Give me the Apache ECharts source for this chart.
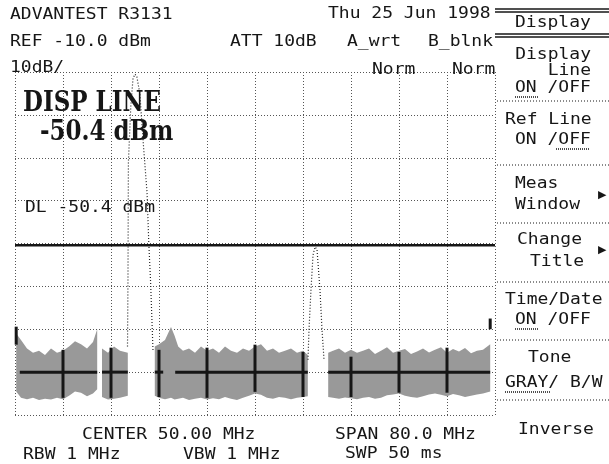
<!DOCTYPE html>
<html>
<head>
<meta charset="utf-8">
<script src="https://cdn.jsdelivr.net/npm/echarts@6/dist/echarts.min.js"></script>
<style>
  html, body { margin: 0; padding: 0; background: #fff; }
  #chart { width: 609px; height: 464px; }
</style>
</head>
<body>
<div id="chart"></div>
<script>
// axis scale: center 50 MHz, span 80 MHz, ref -10 dBm, 10 dB/div
const freqMin = 10;
const freqMax = 90;
const freqStep = 8;
const levelMin = -90;
const levelMax = -10;
const levelStep = 10;
const displayLine = -50.4;

// noise floor envelope (null separates the blocks)
const noiseFreq = [
  10.2, 11, 12, 13, 14, 15, 16, 17, 18, 19, 20, 21, 22, 23, 23.7, null,
  24.5, 25.5, 26.5, 27.5, 28.8, null,
  33.3, 34, 35, 36, 36.6, 37.2, 38, 39, 40, 41, 42, 43, 44, 45, 46, 47, 48, 49, 50, 51, 52, 53, 54, 55, 56, 57, 58, 58.8, null,
  62.2, 63, 64, 65, 66, 67, 68, 69, 70, 71, 72, 73, 74, 75, 76, 77, 78, 79, 80, 81, 82, 83, 84, 85, 86, 87, 88, 89.2
];
const noiseTop = [
  -71, -72.5, -74.5, -75.5, -75, -76, -74.5, -75.5, -75, -74, -72.8, -73.5, -74.5, -73, -70, null,
  -74.5, -75.5, -74, -75, -75.5, null,
  -74, -73.5, -72.5, -69.5, -71.5, -74, -75, -74.5, -75.5, -74, -75, -74.5, -75.5, -74, -75, -75.5, -74.5, -75, -74, -73.5, -75, -74.5, -75.5, -75, -74.5, -75.5, -75, -76, null,
  -75.5, -75, -74.5, -75.5, -74.8, -75.5, -75, -74.5, -75.8, -75, -74.2, -75.5, -75, -74.6, -75.8, -75.2, -74.5, -75.4, -74.8, -74.2, -75.5, -74.6, -75.2, -74.4, -75.6, -75, -74.8, -73.5
];
const noiseBottom = [
  -84.5, -86, -86.3, -86, -86.5, -86.2, -86.4, -86, -86.3, -85.5, -84.5, -84.8, -85.6, -85, -84, null,
  -85.8, -86.4, -86.2, -86, -85.5, null,
  -85.5, -86, -86.3, -86, -86.4, -86.2, -86, -86.5, -86.2, -86, -86.4, -86.1, -86.3, -85.8, -86.2, -86.5, -86, -85.5, -85, -85.3, -86, -86.2, -85.8, -86, -86.3, -86, -85.8, -85.6, null,
  -85.8, -86, -86.2, -85.9, -86.1, -86.3, -86, -85.8, -86.2, -86, -85.4, -85.2, -85, -85.5, -85.8, -86, -85.6, -85.2, -85, -85.3, -85.6, -85.1, -85.4, -85.8, -85.5, -85.2, -85, -84.5
];

// bold graticule pieces inside the noise, plus trace end markers
const boldFreq = [10.2, 18, 26, 34, 42, 50, 58, 66, 74, 82, 89.2];
const boldTop = [-69.4, -74.8, -74.3, -74.8, -74.3, -73.6, -75.3, -76.4, -75.3, -74.3, -67.5];
const boldBottom = [-73.6, -86, -86, -85.8, -86, -84.6, -85.8, -85.8, -84.8, -84.8, -70];
const boldRowStart = [10.8, 24.5, 33.3, 36.7, 62.2];
const boldRowEnd = [23.7, 28.8, 34.7, 58.8, 89.2];
const boldRowLevel = -80;

// signal peaks
const peak1Freq = [28.75, 28.83, 28.9, 29.3, 29.67, 30.0, 30.3, 30.8, 31.4, 32.0, 32.3, 32.6, 32.85, 33.0];
const peak1Level = [-74, -58, -31, -18, -11.5, -10.5, -11, -15, -27, -38, -50, -59, -69, -75];
const peak2Freq = [58.83, 59.0, 59.33, 59.67, 60.0, 60.33, 60.83, 61.17, 61.5];
const peak2Level = [-77.1, -70.1, -60.8, -52.7, -50.8, -51.3, -60.8, -70.1, -77.1];

const segments = [];
let cur = [];
noiseFreq.forEach((f, i) => {
  if (f === null) { segments.push(cur); cur = []; } else { cur.push(i); }
});
segments.push(cur);

const FONT = '"DejaVu Sans Mono", monospace';
const BIG = '"DejaVu Serif", serif';
const INK = '#161616';

function txt(x, y, s, extra) {
  const o = Object.assign({ size: 15, sx: 1.2, sy: 1, align: 'left', family: FONT, weight: 'normal' }, extra || {});
  return {
    type: 'text', x: x, y: y, scaleX: o.sx, scaleY: o.sy, z: 100,
    style: {
      text: s, fill: INK, fontFamily: o.family, fontSize: o.size, fontWeight: o.weight,
      align: o.align, textAlign: o.align, verticalAlign: 'middle', textVerticalAlign: 'middle'
    }
  };
}
function hline(x1, x2, y, w, dash) {
  return {
    type: 'line', z: 100, shape: { x1: x1, y1: y, x2: x2, y2: y },
    style: { stroke: INK, lineWidth: w, lineDash: dash || null }
  };
}

const chart = echarts.init(document.getElementById('chart'));

const graphics = [
  txt(10, 15, 'ADVANTEST R3131'),
  txt(328, 14, 'Thu 25 Jun 1998'),
  txt(10, 42, 'REF -10.0 dBm'),
  txt(230, 42, 'ATT 10dB'),
  txt(347, 42, 'A_wrt'),
  txt(428, 42, 'B_blnk'),
  txt(10, 68, '10dB/'),
  txt(372, 70, 'Norm'),
  txt(452, 70, 'Norm'),
  txt(23, 104, 'DISP LINE', { family: BIG, weight: 'bold', size: 23, sx: 1, sy: 1.2 }),
  txt(40, 133, '-50.4 dBm', { family: BIG, weight: 'bold', size: 23, sx: 1, sy: 1.2 }),
  txt(25, 208, 'DL -50.4 dBm'),
  txt(82, 435, 'CENTER 50.00 MHz'),
  txt(335, 435, 'SPAN 80.0 MHz'),
  txt(23, 455, 'RBW 1 MHz'),
  txt(183, 455, 'VBW 1 MHz'),
  txt(345, 454, 'SWP 50 ms'),
  // soft keys
  hline(495, 609, 9, 1.5), hline(495, 609, 12, 1.5),
  txt(515, 23, 'Display'),
  hline(495, 609, 34, 1.5), hline(495, 609, 37, 1.5),
  txt(591, 55, 'Display', { align: 'right' }),
  txt(591, 71, 'Line', { align: 'right' }),
  txt(515, 88, 'ON /OFF'),
  hline(515, 539, 97, 1.5, [1, 1]),
  hline(497, 609, 101, 1, [1, 2]),
  txt(505, 120, 'Ref Line'),
  txt(515, 140, 'ON /OFF'),
  hline(556, 590, 149, 1.5, [1, 1]),
  hline(497, 609, 165, 1, [1, 2]),
  txt(515, 184, 'Meas'),
  txt(515, 205, 'Window'),
  txt(598, 195, '\u25B6', { size: 11, sx: 1, family: '"DejaVu Sans", sans-serif' }),
  hline(497, 609, 223, 1, [1, 2]),
  txt(517, 240, 'Change'),
  txt(530, 262, 'Title'),
  txt(598, 250, '\u25B6', { size: 11, sx: 1, family: '"DejaVu Sans", sans-serif' }),
  hline(497, 609, 282, 1, [1, 2]),
  txt(505, 300, 'Time/Date'),
  txt(515, 320, 'ON /OFF'),
  hline(515, 539, 329, 1.5, [1, 1]),
  hline(497, 609, 340, 1, [1, 2]),
  txt(528, 358, 'Tone'),
  txt(505, 383, 'GRAY/ B/W'),
  hline(505, 550, 392, 1.5, [1, 1]),
  hline(497, 609, 400, 1, [1, 2]),
  txt(518, 430, 'Inverse')
];

const gridLine = { show: true, lineStyle: { color: '#555', width: 1, type: [1, 2] } };

chart.setOption({
  backgroundColor: '#fff',
  animation: false,
  grid: { left: 15, right: 114, top: 72, bottom: 49 },
  xAxis: {
    type: 'value', min: freqMin, max: freqMax, interval: freqStep,
    axisLine: { show: false }, axisTick: { show: false }, axisLabel: { show: false },
    splitLine: gridLine
  },
  yAxis: {
    type: 'value', min: levelMin, max: levelMax, interval: levelStep,
    axisLine: { show: false }, axisTick: { show: false }, axisLabel: { show: false },
    splitLine: gridLine
  },
  graphic: graphics,
  series: [
    {
      type: 'custom', name: 'noise', z: 3,
      data: segments.map((s, i) => [noiseFreq[s[0]], noiseTop[s[0]], i]),
      renderItem: function (params, api) {
        const seg = segments[params.dataIndex];
        const pts = [];
        seg.forEach(i => pts.push(api.coord([noiseFreq[i], noiseTop[i]])));
        seg.slice().reverse().forEach(i => pts.push(api.coord([noiseFreq[i], noiseBottom[i]])));
        return { type: 'polygon', shape: { points: pts }, style: { fill: '#999999' } };
      }
    },
    {
      type: 'custom', name: 'boldCols', z: 4,
      data: boldFreq.map((f, i) => [f, boldTop[i], boldBottom[i]]),
      renderItem: function (params, api) {
        const a = api.coord([api.value(0), api.value(1)]);
        const b = api.coord([api.value(0), api.value(2)]);
        return { type: 'line', shape: { x1: a[0], y1: a[1], x2: b[0], y2: b[1] }, style: { stroke: INK, lineWidth: 3 } };
      }
    },
    {
      type: 'custom', name: 'boldRows', z: 4,
      data: boldRowStart.map((f, i) => [f, boldRowEnd[i]]),
      renderItem: function (params, api) {
        const a = api.coord([api.value(0), boldRowLevel]);
        const b = api.coord([api.value(1), boldRowLevel]);
        return { type: 'line', shape: { x1: a[0], y1: a[1], x2: b[0], y2: b[1] }, style: { stroke: INK, lineWidth: 3 } };
      }
    },
    {
      type: 'line', name: 'peak1', z: 5, showSymbol: false,
      data: peak1Freq.map((f, i) => [f, peak1Level[i]]),
      lineStyle: { color: '#222', width: 1.2, type: [1, 2] }
    },
    {
      type: 'line', name: 'peak2', z: 5, showSymbol: false,
      data: peak2Freq.map((f, i) => [f, peak2Level[i]]),
      lineStyle: { color: '#222', width: 1.2, type: [1, 2] }
    },
    {
      type: 'line', name: 'displayLine', z: 6, showSymbol: false,
      data: [[freqMin, displayLine], [freqMax, displayLine]],
      lineStyle: { color: INK, width: 2.5 }
    }
  ]
});
</script>
</body>
</html>
